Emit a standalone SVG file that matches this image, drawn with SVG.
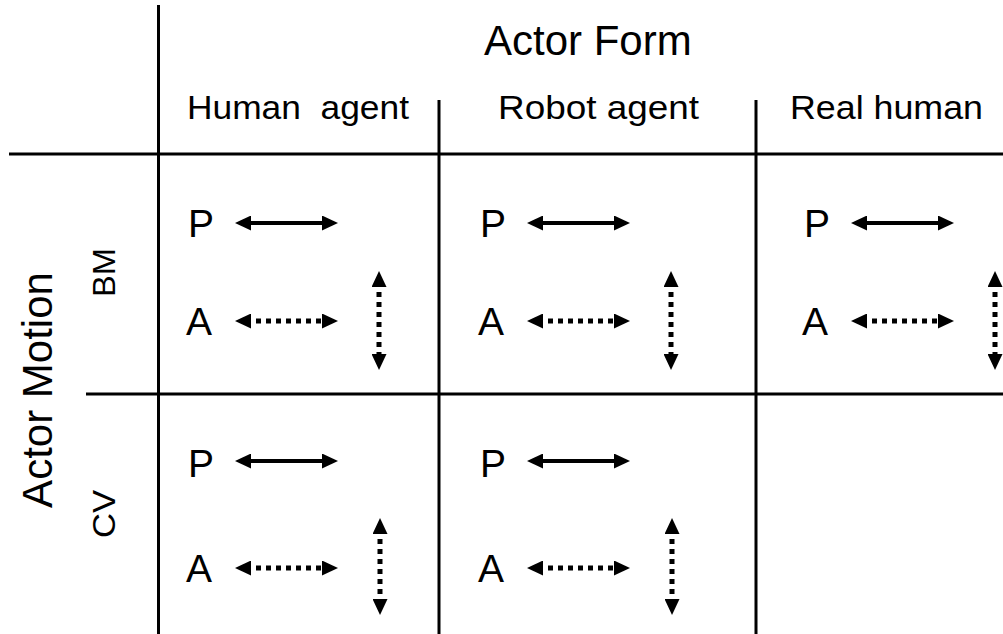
<svg xmlns="http://www.w3.org/2000/svg" width="1003" height="634" viewBox="0 0 1003 634">
<style>
text{font-family:"Liberation Sans",Arial,sans-serif;fill:#000}
.hdr{font-size:33px;white-space:pre}
.big{font-size:42px}
.lbl{font-size:39px}
.row{font-size:32px}
.grid{stroke:#000;stroke-width:3;fill:none}
.sol{stroke:#000;stroke-width:4;fill:none}
.dot{stroke:#000;stroke-width:5;stroke-dasharray:5 5;fill:none}
</style>
<defs>
<marker id="ah" viewBox="0 0 16 15" markerUnits="userSpaceOnUse" markerWidth="16" markerHeight="15" refX="5" refY="7.5" orient="auto-start-reverse">
<path d="M0,0 L16,7.5 L0,15 z" fill="#000"/>
</marker>
</defs>
<g id="grid">
<line class="grid" x1="158.5" y1="5" x2="158.5" y2="634"/>
<line class="grid" x1="9" y1="154" x2="1003" y2="154"/>
<line class="grid" x1="439" y1="100" x2="439" y2="634"/>
<line class="grid" x1="756" y1="100" x2="756" y2="634"/>
<line class="grid" x1="86" y1="394" x2="1003" y2="394"/>
</g>
<g id="headers">
<text class="big" x="484" y="55">Actor Form</text>
<text class="hdr" x="187" y="119" textLength="222" lengthAdjust="spacingAndGlyphs">Human  agent</text>
<text class="hdr" x="498" y="119" textLength="201" lengthAdjust="spacingAndGlyphs">Robot agent</text>
<text class="hdr" x="790" y="119" textLength="193" lengthAdjust="spacingAndGlyphs">Real human</text>
<text class="big" transform="translate(52,390) rotate(-90)" text-anchor="middle">Actor Motion</text>
<text class="row" transform="translate(115,297) rotate(-90)" textLength="49" lengthAdjust="spacingAndGlyphs">BM</text>
<text class="row" transform="translate(115,538) rotate(-90)" textLength="48" lengthAdjust="spacingAndGlyphs">CV</text>
</g>
<g id="cell-human-bm">
<text class="lbl" x="188" y="237">P</text>
<text class="lbl" x="186" y="335">A</text>
</g>
<g id="cell-robot-bm" transform="translate(292,0)">
<text class="lbl" x="188" y="237">P</text>
<text class="lbl" x="186" y="335">A</text>
</g>
<g id="cell-real-bm" transform="translate(616,0)">
<text class="lbl" x="188" y="237">P</text>
<text class="lbl" x="186" y="335">A</text>
</g>
<g id="cell-human-cv">
<text class="lbl" x="188" y="477">P</text>
<text class="lbl" x="186" y="582">A</text>
</g>
<g id="cell-robot-cv" transform="translate(292,0)">
<text class="lbl" x="188" y="477">P</text>
<text class="lbl" x="186" y="582">A</text>
</g>
<g id="connectors">
<g id="conn-human-bm">
<line class="sol" x1="246" y1="223" x2="327" y2="223" marker-start="url(#ah)" marker-end="url(#ah)"/>
<line class="dot" x1="246" y1="321" x2="327" y2="321" marker-start="url(#ah)" marker-end="url(#ah)"/>
<line class="dot" x1="379" y1="282" x2="379" y2="359" marker-start="url(#ah)" marker-end="url(#ah)"/>
</g>
<g id="conn-robot-bm" transform="translate(292,0)">
<line class="sol" x1="246" y1="223" x2="327" y2="223" marker-start="url(#ah)" marker-end="url(#ah)"/>
<line class="dot" x1="246" y1="321" x2="327" y2="321" marker-start="url(#ah)" marker-end="url(#ah)"/>
<line class="dot" x1="379" y1="282" x2="379" y2="359" marker-start="url(#ah)" marker-end="url(#ah)"/>
</g>
<g id="conn-real-bm" transform="translate(616,0)">
<line class="sol" x1="246" y1="223" x2="327" y2="223" marker-start="url(#ah)" marker-end="url(#ah)"/>
<line class="dot" x1="246" y1="321" x2="327" y2="321" marker-start="url(#ah)" marker-end="url(#ah)"/>
<line class="dot" x1="379" y1="282" x2="379" y2="359" marker-start="url(#ah)" marker-end="url(#ah)"/>
</g>
<g id="conn-human-cv">
<line class="sol" x1="246" y1="461" x2="327" y2="461" marker-start="url(#ah)" marker-end="url(#ah)"/>
<line class="dot" x1="246" y1="568" x2="327" y2="568" marker-start="url(#ah)" marker-end="url(#ah)"/>
<line class="dot" x1="380" y1="529" x2="380" y2="604" marker-start="url(#ah)" marker-end="url(#ah)"/>
</g>
<g id="conn-robot-cv" transform="translate(292,0)">
<line class="sol" x1="246" y1="461" x2="327" y2="461" marker-start="url(#ah)" marker-end="url(#ah)"/>
<line class="dot" x1="246" y1="568" x2="327" y2="568" marker-start="url(#ah)" marker-end="url(#ah)"/>
<line class="dot" x1="380" y1="529" x2="380" y2="604" marker-start="url(#ah)" marker-end="url(#ah)"/>
</g>
</g>
</svg>
